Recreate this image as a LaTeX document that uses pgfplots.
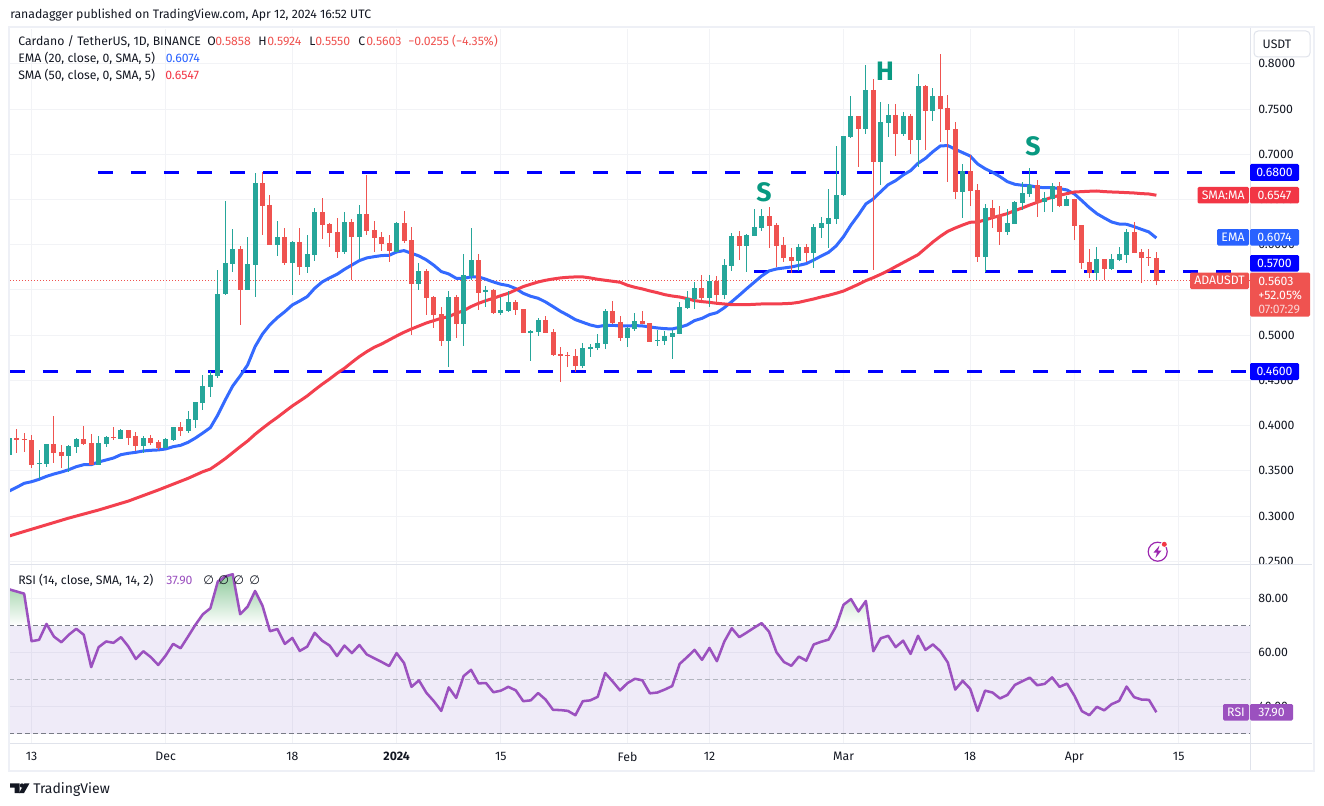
\documentclass[border=0pt]{standalone}
\usepackage{fontspec}
\usepackage{pgfplots}
\usepackage{pgfplotstable}
\pgfplotsset{compat=1.18}
\setmainfont{Fira Sans}
\newfontfamily\symfont{DejaVu Sans}

\definecolor{upc}{HTML}{26A69A}
\definecolor{downc}{HTML}{EF5350}
\definecolor{emac}{HTML}{2962FF}
\definecolor{smac}{HTML}{F23645}
\definecolor{rsic}{HTML}{9B51BF}
\definecolor{gridc}{HTML}{F2F3F6}
\definecolor{framec}{HTML}{EEF0F6}
\definecolor{sepc}{HTML}{E0E3EB}
\definecolor{txt}{HTML}{131722}
\definecolor{letter}{HTML}{089981}
\definecolor{bandc}{HTML}{7E57C2}
\definecolor{grna}{HTML}{AFDAB7}
\definecolor{grnb}{HTML}{8CC99A}
\definecolor{grnc}{HTML}{D6EBD9}
\definecolor{dashd}{HTML}{787B86}
\definecolor{dashl}{HTML}{B2B5BE}
\definecolor{boltc}{HTML}{9C27B0}

% day number (0 = 1 Jan 2024), high, low, open, close
\pgfplotstableread{
d h l o c
-52 .3863 .3675 .3675 .3863
-48 .3731 .3406 .3576 .3587
-47 .3797 .3546 .3579 .3797
-44 .3786 .3491 .3668 .3775
-43 .3863 .3701 .3764 .3852
-40 .3885 .3565 .3565 .3808
-39 .3885 .3767 .3797 .3874
-37 .3963 .3852 .3852 .3952
-34 .3885 .3701 .3775 .3863
-31 .3863 .3749 .3753 .3852
-30 .3985 .3830 .3841 .3985
-28 .4162 .3919 .3941 .4073
-27 .4261 .3974 .4062 .4261
-26 .4560 .4173 .4250 .4438
-25 .4604 .4317 .4427 .4560
-24 .5721 .4527 .4549 .5456
-23 .6484 .5445 .5456 .5798
-22 .6174 .5699 .5787 .5953
-20 .6086 .5500 .5500 .5787
-19 .6794 .5422 .5776 .6683
-16 .6263 .5876 .5997 .6086
-14 .6042 .5445 .5798 .6031
-12 .6108 .5688 .5754 .5898
-11 .6407 .5821 .5887 .6362
-7 .6362 .5898 .5920 .6252
-5 .6440 .5843 .6086 .6340
0 .6252 .5920 .5920 .6241
3 .5798 .5500 .5566 .5710
7 .5489 .4648 .4936 .5422
9 .5898 .4881 .5124 .5666
10 .6185 .5610 .5655 .5832
12 .5544 .5312 .5478 .5500
14 .5422 .5223 .5246 .5279
15 .5489 .5257 .5268 .5367
18 .5058 .4715 .5024 .5047
19 .5190 .4991 .5035 .5168
25 .4914 .4637 .4659 .4858
26 .4903 .4759 .4847 .4870
27 .5013 .4836 .4858 .4914
28 .5290 .4847 .4903 .5268
31 .5091 .4870 .4969 .5080
32 .5246 .5047 .5069 .5157
35 .5058 .4881 .4936 .4947
36 .5047 .4892 .4936 .4991
37 .5057 .4737 .4980 .5027
38 .5364 .5010 .5013 .5308
39 .5488 .5289 .5300 .5411
40 .5588 .5289 .5400 .5522
42 .5665 .5311 .5411 .5599
44 .5842 .5400 .5444 .5776
45 .6130 .5710 .5765 .6097
47 .6119 .5699 .5986 .6108
48 .6395 .6097 .6097 .6196
49 .6395 .6152 .6185 .6318
54 .6008 .5710 .5820 .5975
56 .6229 .5743 .5909 .6196
57 .6307 .6075 .6185 .6240
58 .6616 .5964 .6229 .6296
59 .7092 .6229 .6285 .6550
60 .7202 .6539 .6550 .7202
61 .7645 .7180 .7191 .7424
63 .7988 .7225 .7280 .7711
65 .7578 .6661 .6915 .7357
66 .7556 .7191 .7346 .7435
68 .7468 .7202 .7225 .7424
70 .7888 .6860 .7158 .7755
72 .7733 .7368 .7479 .7645
76 .6893 .6296 .6583 .6815
79 .6451 .5699 .5864 .6406
82 .6395 .6108 .6141 .6240
83 .6484 .6229 .6229 .6473
84 .6694 .6384 .6462 .6572
85 .6849 .6528 .6561 .6661
87 .6583 .6362 .6473 .6517
88 .6683 .6362 .6506 .6650
90 .6539 .6428 .6428 .6506
94 .5975 .5610 .5688 .5842
96 .5898 .5721 .5732 .5842
97 .5975 .5820 .5831 .5898
98 .6174 .5798 .5887 .6141
}\upcandles

\pgfplotstableread{
d h l o c
-51 .3959 .3701 .3863 .3845
-50 .3915 .3712 .3852 .3841
-49 .3897 .3535 .3841 .3568
-46 .4107 .3591 .3797 .3701
-45 .3786 .3532 .3708 .3664
-42 .3996 .3786 .3852 .3797
-41 .3908 .3565 .3808 .3565
-38 .3985 .3841 .3874 .3863
-36 .3952 .3786 .3952 .3863
-35 .3930 .3720 .3885 .3775
-33 .3897 .3786 .3863 .3808
-32 .3841 .3731 .3819 .3753
-29 .4044 .3885 .3985 .3941
-21 .5986 .5113 .5953 .5500
-18 .6808 .6108 .6683 .6429
-17 .6550 .5997 .6440 .5997
-15 .6185 .5776 .6086 .5798
-13 .6185 .5666 .6031 .5754
-10 .6517 .6064 .6362 .6219
-9 .6241 .5975 .6230 .6130
-8 .6296 .5854 .6141 .5920
-6 .6285 .5610 .6252 .6086
-4 .6772 .6108 .6340 .6152
-3 .6263 .5920 .6163 .6075
-2 .6141 .5931 .6086 .6009
-1 .6108 .5810 .6020 .5931
1 .6373 .6020 .6241 .6042
2 .6197 .5002 .6053 .5566
4 .5732 .5223 .5710 .5411
5 .5434 .5080 .5422 .5223
6 .5312 .4881 .5234 .4936
8 .5445 .4969 .5422 .5124
11 .5898 .5279 .5832 .5467
13 .5511 .5234 .5500 .5246
16 .5389 .5223 .5367 .5279
17 .5290 .5024 .5290 .5024
20 .5212 .5024 .5168 .5024
21 .5069 .4770 .5035 .4781
22 .4870 .4483 .4792 .4770
23 .4814 .4648 .4781 .4770
24 .4847 .4593 .4770 .4659
29 .5378 .5124 .5268 .5135
30 .5212 .4936 .5146 .4969
33 .5268 .5124 .5157 .5124
34 .5135 .4925 .5135 .4925
41 .5665 .5389 .5522 .5411
43 .5654 .5356 .5599 .5444
46 .6152 .5831 .6097 .5986
50 .6417 .5964 .6318 .6207
51 .6240 .5754 .6218 .5986
52 .6086 .5809 .5997 .5853
53 .5964 .5688 .5864 .5820
55 .6008 .5809 .5975 .5909
62 .7424 .6860 .7424 .7280
64 .7833 .5721 .7711 .6915
67 .7556 .6981 .7435 .7225
69 .7446 .7003 .7424 .7158
71 .7766 .7048 .7755 .7479
73 .8109 .7136 .7645 .7501
74 .7656 .6694 .7512 .7269
75 .7357 .6506 .7280 .6583
77 .6992 .6428 .6815 .6594
78 .6672 .5809 .6605 .5864
80 .6495 .6185 .6406 .6296
81 .6428 .5997 .6329 .6141
86 .6716 .6307 .6661 .6462
89 .6694 .6417 .6650 .6428
91 .6506 .6052 .6506 .6207
92 .6218 .5732 .6218 .5798
93 .5953 .5632 .5809 .5688
95 .5842 .5610 .5842 .5732
99 .6251 .5909 .6141 .5909
100 .5953 .5577 .5920 .5853
101 .5953 .5765 .5864 .5853
102 .5924 .5550 .5858 .5603
}\downcandles

\pgfplotstableread{
d v
-52 .3277
-51 .3318
-50 .3362
-49 .3380
-48 .3406
-47 .3439
-46 .3465
-45 .3487
-44 .3513
-43 .3546
-42 .3568
-41 .3568
-40 .3598
-39 .3620
-38 .3642
-37 .3679
-36 .3694
-35 .3705
-34 .3720
-33 .3727
-32 .3731
-31 .3742
-30 .3767
-29 .3782
-28 .3815
-27 .3863
-26 .3919
-25 .3978
-24 .4118
-23 .4284
-22 .4438
-21 .4549
-20 .4671
-19 .4873
-18 .5013
-17 .5116
-16 .5194
-15 .5260
-14 .5334
-13 .5378
-12 .5426
-11 .5518
-10 .5588
-9 .5633
-8 .5673
-7 .5728
-6 .5776
-5 .5824
-4 .5854
-3 .5868
-2 .5880
-1 .5883
0 .5920
1 .5935
2 .5905
3 .5876
4 .5832
5 .5773
6 .5703
7 .5677
8 .5629
9 .5629
10 .5644
11 .5644
12 .5618
13 .5588
14 .5563
15 .5548
16 .5515
17 .5463
18 .5430
19 .5408
20 .5367
21 .5316
22 .5264
23 .5220
24 .5172
25 .5142
26 .5113
27 .5094
28 .5109
29 .5109
30 .5102
31 .5102
32 .5106
33 .5102
34 .5091
35 .5080
36 .5072
37 .5069
38 .5087
39 .5113
40 .5161
41 .5186
42 .5227
43 .5249
44 .5304
45 .5371
46 .5441
47 .5514
48 .5584
49 .5654
50 .5710
51 .5732
52 .5743
53 .5754
54 .5772
55 .5791
56 .5831
57 .5875
58 .5916
59 .5986
60 .6089
61 .6218
62 .6329
63 .6451
64 .6506
65 .6587
66 .6664
67 .6709
68 .6771
69 .6819
70 .6900
71 .6955
72 .7029
73 .7092
74 .7096
75 .7055
76 .7018
77 .6981
78 .6893
79 .6841
80 .6801
81 .6753
82 .6697
83 .6668
84 .6657
85 .6653
86 .6635
87 .6631
88 .6631
89 .6620
90 .6605
91 .6561
92 .6487
93 .6410
94 .6344
95 .6296
96 .6251
97 .6229
98 .6226
99 .6200
100 .6170
101 .6141
102 .6074
}\ematable

\pgfplotstableread{
d v
-52 .2780
-48 .2879
-44 .2978
-40 .3067
-36 .3166
-32 .3288
-28 .3417
-26 .3491
-25 .3520
-24 .3576
-23 .3635
-22 .3701
-21 .3767
-20 .3830
-19 .3904
-18 .3970
-17 .4033
-16 .4092
-15 .4155
-14 .4217
-13 .4272
-12 .4328
-11 .4394
-10 .4457
-9 .4515
-8 .4578
-7 .4634
-6 .4700
-5 .4763
-4 .4818
-3 .4866
-2 .4903
-1 .4947
0 .4991
1 .5032
2 .5069
3 .5102
4 .5135
5 .5161
6 .5187
7 .5205
8 .5242
9 .5271
10 .5316
11 .5352
12 .5382
13 .5408
14 .5437
15 .5463
16 .5500
17 .5537
18 .5563
19 .5588
20 .5607
21 .5621
22 .5633
23 .5640
24 .5644
25 .5644
26 .5633
27 .5618
28 .5607
29 .5596
30 .5585
31 .5552
32 .5529
33 .5511
34 .5489
35 .5470
36 .5448
37 .5433
38 .5422
39 .5404
40 .5382
41 .5371
42 .5363
43 .5352
44 .5345
45 .5337
46 .5337
47 .5337
48 .5341
49 .5345
50 .5345
51 .5345
52 .5348
53 .5352
54 .5363
55 .5382
56 .5400
57 .5422
58 .5441
59 .5463
60 .5488
61 .5525
62 .5562
63 .5603
64 .5636
65 .5673
66 .5713
67 .5758
68 .5802
69 .5846
70 .5890
71 .5960
72 .6030
73 .6093
74 .6148
75 .6185
76 .6218
77 .6248
78 .6251
79 .6274
80 .6299
81 .6321
82 .6344
83 .6377
84 .6406
85 .6439
86 .6469
87 .6498
88 .6524
89 .6546
90 .6565
91 .6583
92 .6587
93 .6591
94 .6594
95 .6587
96 .6583
97 .6580
98 .6576
99 .6572
100 .6565
101 .6561
102 .6547
}\smatable

\pgfplotstableread{
d v
-52 83.4
-51 82.6
-50 81.8
-49 64.2
-48 64.7
-47 70.6
-46 65.9
-45 63.8
-44 66.6
-43 68.8
-42 66.6
-41 54.6
-40 62.0
-39 64.1
-38 63.6
-37 65.7
-36 62.2
-35 57.6
-34 60.5
-33 58.3
-32 55.4
-31 58.9
-30 63.2
-29 61.6
-28 65.9
-27 70.3
-26 74.2
-25 76.4
-24 86.3
-23 88.2
-22 89.0
-21 74.2
-20 77.0
-19 82.8
-18 77.3
-17 67.9
-16 68.7
-15 63.2
-14 65.4
-13 60.6
-12 62.2
-11 67.3
-10 64.4
-9 62.6
-8 58.7
-7 62.6
-6 59.8
-5 62.8
-4 59.3
-3 57.9
-2 56.5
-1 55.0
0 59.8
1 56.1
2 47.3
3 49.7
4 45.1
5 42.0
6 38.4
7 47.1
8 43.2
9 51.3
10 53.6
11 48.6
12 48.7
13 45.3
14 45.9
15 47.3
16 46.0
17 42.0
18 42.3
19 45.0
20 42.6
21 38.8
22 38.7
23 38.4
24 36.8
25 42.0
26 42.3
27 43.6
28 52.4
29 49.3
30 46.0
31 48.7
32 50.3
33 49.7
34 44.9
35 45.2
36 46.3
37 47.6
38 55.8
39 58.3
40 61.0
41 57.3
42 61.7
43 56.8
44 64.1
45 69.0
46 65.7
47 67.4
48 69.2
49 70.9
50 67.7
51 60.1
52 56.5
53 55.1
54 58.5
55 57.0
56 63.0
57 64.0
58 64.8
59 69.7
60 77.7
61 79.8
62 75.2
63 79.1
64 60.5
65 65.3
66 66.2
67 62.0
68 64.4
69 59.5
70 66.2
71 61.0
72 63.0
73 60.5
74 56.3
75 46.3
76 49.5
77 46.6
78 38.4
79 45.9
80 45.2
81 43.0
82 44.3
83 48.0
84 49.4
85 50.7
86 47.9
87 48.4
88 50.8
89 47.3
90 48.5
91 44.0
92 38.3
93 36.8
94 39.9
95 38.6
96 40.9
97 42.1
98 47.4
99 43.5
100 42.6
101 42.5
102 37.90
}\rsitable

% 1 picture unit = 1 reference pixel = 0.75pt
\newcommand{\lab}[4]{\node[anchor=base west,inner sep=0pt,text=#3] at (#1,#2) {\fontsize{9.2pt}{11pt}\selectfont #4};}
\newcommand{\tagbox}[6]{\fill[#5,rounded corners=1pt] (#1,#2) rectangle (#3,#4);
  \node[text=white,inner sep=0pt] at ({(#1+#3)/2},{(#2+#4)/2}) {\fontsize{9.2pt}{11pt}\selectfont #6};}
\newcommand{\bigletter}[3]{\node[text=letter,inner sep=0pt] at (#1,#2) {\fontsize{20pt}{24pt}\selectfont\bfseries #3};}

\pgfplotsset{
  chartpane/.style={
    scale only axis,
    anchor=south west,
    width=930pt,
    xmin=-51.9, xmax=114.57,
    axis line style={draw=none},
    major tick length=0pt,
    xtick={-49,-31,-14,0,14,31,42,60,77,91,105},
    yticklabel pos=right,
    grid=major,
    grid style={gridc,line width=0.75pt},
    tick label style={text=txt,inner sep=0pt,font=\fontsize{9.2pt}{11pt}\selectfont},
    yticklabel style={anchor=west,xshift=6pt},
    clip=true,
  },
  candlewick/.style={draw=none,mark=none,forget plot,
    error bars/.cd,y dir=plus,y explicit,error mark=none,
    error bar style={#1,line width=0.75pt}},
  candlebody/.style={draw=none,mark=none,forget plot,
    error bars/.cd,y dir=plus,y explicit,error mark=none,
    error bar style={#1,line width=3.75pt}},
}

\begin{document}
\begin{tikzpicture}[x=0.75pt,y=-0.75pt]
\path[use as bounding box] (0,0) rectangle (1324,806);

\begin{axis}[chartpane,
  at={(7.5pt,-423pt)},
  height=401.25pt,
  ymin=.2470, ymax=.8385,
  ytick={.25,.30,.35,.40,.45,.50,.55,.60,.65,.70,.75,.80},
  xticklabels={},
  /pgf/number format/.cd,fixed,fixed zerofill,precision=4,assume math mode=true,
]
% horizontal levels
\addplot[blue,line width=2.25pt,dash pattern=on 11.25pt off 13.5pt,forget plot] coordinates {(-40.1,.68) (112.5,.68)};
\addplot[blue,line width=2.25pt,dash pattern=on 11.25pt off 13.5pt,forget plot] coordinates {(48,.57) (112,.57)};
\addplot[blue,line width=2.25pt,dash pattern=on 11.25pt off 13.5pt,forget plot] coordinates {(-51.9,.46) (114,.46)};
\addplot[downc,line width=0.75pt,dash pattern=on 0.75pt off 1.5pt,forget plot] coordinates {(-51.9,.5603) (114.5,.5603)};
% moving averages
\addplot[emac,line width=2.25pt,line join=round,opacity=.95] table[x=d,y=v] {\ematable};
\addplot[smac,line width=2.25pt,line join=round,opacity=.95] table[x=d,y=v] {\smatable};
% candles
\addplot[candlewick=upc] table[x=d,y=l,y error plus expr=\thisrow{h}-\thisrow{l}] {\upcandles};
\addplot[candlebody=upc] table[x=d,y=o,y error plus expr=\thisrow{c}-\thisrow{o}] {\upcandles};
\addplot[candlewick=downc] table[x=d,y=l,y error plus expr=\thisrow{h}-\thisrow{l}] {\downcandles};
\addplot[candlebody=downc] table[x=d,y=c,y error plus expr=\thisrow{o}-\thisrow{c}] {\downcandles};
\end{axis}

% price scale stops at the pane edge
\fill[white] (1251,565) rectangle (1312,585);

\begin{axis}[chartpane,
  at={(7.5pt,-557.475pt)},
  height=133.7pt,
  ymin=26.4, ymax=92.4,
  ytick={40,60,80},
  xticklabels={13,Dec,18,\textbf{2024},15,Feb,12,Mar,18,Apr,15},
  xticklabel style={yshift=-6.3pt},
  /pgf/number format/.cd,fixed,fixed zerofill,precision=2,assume math mode=true,
]
\fill[bandc,fill opacity=.12] (axis cs:-52,30) rectangle (axis cs:115,70);
\addplot[draw=none,top color=grna,bottom color=white,forget plot] coordinates {(-52,70) (-52,83.4) (-51,82.6) (-50,81.8) (-49.33,70)} --cycle;
\addplot[draw=none,top color=grnb,bottom color=white,forget plot] coordinates {(-27,70) (-27,70.3) (-26,74.2) (-25,76.4) (-24,86.3) (-23,88.2) (-22,89.0) (-21,74.2) (-20,77.0) (-19,82.8) (-18,77.3) (-17.22,70)} --cycle;
\addplot[draw=none,top color=grnc,bottom color=white,forget plot] coordinates {(59.04,70) (60,77.7) (61,79.8) (62,75.2) (63,79.1) (63.48,70)} --cycle;
\addplot[dashd,line width=0.75pt,dash pattern=on 3.75pt off 2.25pt,forget plot] coordinates {(-52,70) (115,70)};
\addplot[dashl,line width=0.75pt,dash pattern=on 3.75pt off 2.25pt,forget plot] coordinates {(-52,50) (115,50)};
\addplot[dashd,line width=0.75pt,dash pattern=on 3.75pt off 2.25pt,forget plot] coordinates {(-52,30) (115,30)};
\addplot[rsic,line width=1.9pt,line join=round] table[x=d,y=v] {\rsitable};
\end{axis}

% frame and pane separators
\draw[framec,line width=1.5pt] (9,27) rectangle (1314,771);
\draw[sepc,line width=0.75pt] (10,564) -- (1312,564);
\draw[sepc,line width=0.75pt] (10,743.3) -- (1312,743.3);
\draw[sepc,line width=0.75pt] (1250.5,28) -- (1250.5,770);

% heading and legends
\lab{10}{19}{txt}{ranadagger published on TradingView.com, Apr 12, 2024 16:52 UTC}
\lab{18}{46}{txt}{Cardano / TetherUS, 1D, BINANCE}
\lab{207}{46}{txt}{O} \lab{215}{46}{downc}{0.5858}
\lab{258}{46}{txt}{H} \lab{267}{46}{downc}{0.5924}
\lab{309}{46}{txt}{L} \lab{315}{46}{downc}{0.5550}
\lab{358}{46}{txt}{C} \lab{366}{46}{downc}{0.5603}
\lab{408}{46}{downc}{−0.0255 (−4.35\%)}
\lab{18}{63}{txt}{EMA (20, close, 0, SMA, 5)} \lab{165.5}{63}{emac}{0.6074}
\lab{18}{80}{txt}{SMA (50, close, 0, SMA, 5)} \lab{165}{80}{smac}{0.6547}
\lab{18}{584}{txt}{RSI (14, close, SMA, 14, 2)} \lab{166}{584}{rsic}{37.90}
\lab{203}{584}{txt}{\symfont ∅} \lab{218}{584}{txt}{\symfont ∅}
\lab{233}{584}{txt}{\symfont ∅} \lab{249}{584}{txt}{\symfont ∅}

% pattern letters
\bigletter{764}{192.5}{S}
\bigletter{885}{71}{H}
\bigletter{1033}{146}{S}

% scale button
\draw[sepc,fill=white,rounded corners=3pt,line width=0.75pt] (1254,31) rectangle (1310,57);
\node[text=txt,inner sep=0pt] at (1277,44) {\fontsize{9.2pt}{11pt}\selectfont USDT};

% price tags
\tagbox{1250}{164}{1299}{181}{blue}{0.6800}
\tagbox{1197.5}{187}{1249}{203.5}{smac}{SMA:MA}
\tagbox{1250}{187}{1299}{203.5}{smac}{0.6547}
\tagbox{1217}{229}{1249}{245.5}{emac}{EMA}
\tagbox{1250}{229}{1299}{245.5}{emac}{0.6074}
\tagbox{1250}{255}{1299}{271.5}{blue}{0.5700}
\tagbox{1190}{272.5}{1249}{289}{downc}{ADAUSDT}
\fill[downc,rounded corners=1pt] (1250,272.5) rectangle (1310,316.5);
\node[text=white,anchor=base west,inner sep=0pt] at (1258,285) {\fontsize{9.2pt}{11pt}\selectfont 0.5603};
\node[text=white,anchor=base west,inner sep=0pt] at (1258,299) {\fontsize{9.2pt}{11pt}\selectfont +52.05\%};
\node[text=white,opacity=.75,anchor=base west,inner sep=0pt] at (1258,313) {\fontsize{9.2pt}{11pt}\selectfont 07:07:29};
\tagbox{1250}{363}{1299}{380}{blue}{0.4600}
\tagbox{1223}{704}{1249}{720.5}{rsic}{RSI}
\tagbox{1250}{704}{1293}{720.5}{rsic}{37.90}

% lightning button
\draw[boltc,line width=0.9pt] (1157.7,551.7) circle (9.5);
\fill[boltc] (1159.5,545.5) -- (1153.5,552.5) -- (1157,552.5) -- (1155.5,558) -- (1161.5,550.5) -- (1158,550.5) -- cycle;
\fill[white] (1164.3,544.3) circle (3.6);
\fill[smac] (1164.3,544.3) circle (2.5);

% logo
\fill[txt] (10,783.3) -- (19.5,783.3) -- (19.5,793) -- (14.5,793) -- (14.5,787.6) -- (10,787.6) -- cycle;
\fill[txt] (22,785.5) circle (2.2);
\fill[txt] (24.5,783.3) -- (29.5,783.3) -- (24,793) -- (19,793) -- cycle;
\node[text=txt,anchor=base west,inner sep=0pt] at (33,793) {\fontsize{10.5pt}{13pt}\selectfont TradingView};
\end{tikzpicture}
\end{document}
